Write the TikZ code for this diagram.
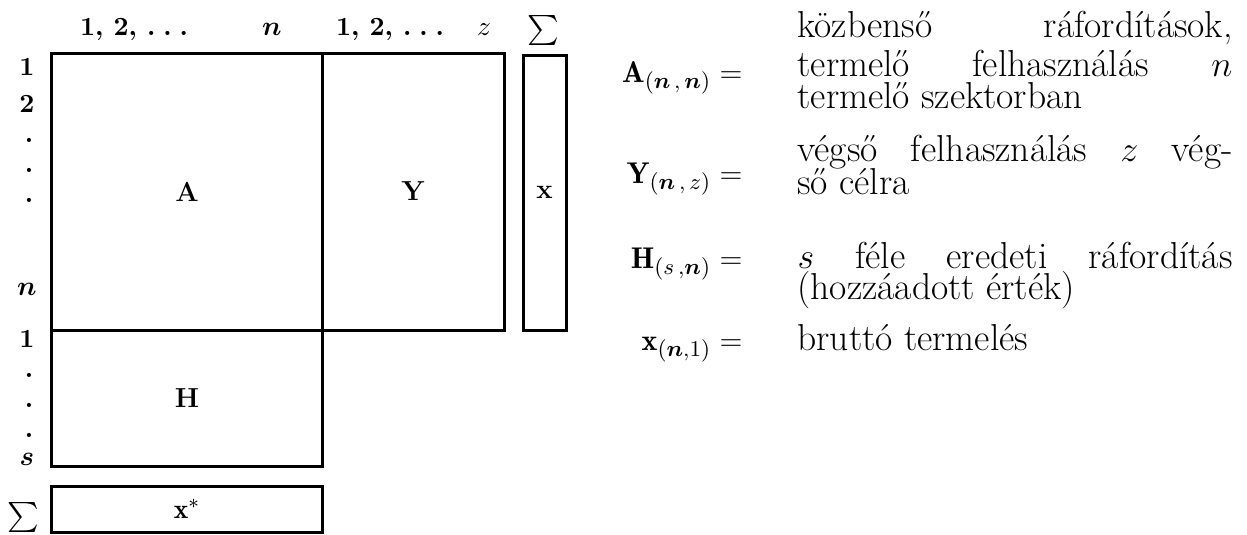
\documentclass[tikz,border=0pt]{standalone}
\usepackage{amsmath,bm}
\usepackage{fontspec}
\DeclareMathSizes{12}{12}{9}{7}
\newcommand{\spdots}{.\hspace{0.3em}.\hspace{0.3em}.}
\begin{document}
\begin{tikzpicture}[x=0.4pt,y=-0.4pt,
  mbox/.style={draw,line width=1.2pt,inner sep=0pt,outer sep=0pt,font=\fontsize{11}{13}\selectfont\bfseries},
  lbl/.style={inner sep=0pt,font=\fontsize{10.5}{12}\selectfont\bfseries},
  dotlbl/.style={inner sep=0pt,font=\fontsize{10.5}{12}\selectfont\bfseries},
  sumlbl/.style={inner sep=0pt,font=\fontsize{13}{15}\selectfont},
  eqlbl/.style={inner sep=0pt,anchor=base east,font=\fontsize{12}{14}\selectfont},
  body/.style={inner sep=0pt,anchor=base west,font=\fontsize{15}{16}\selectfont}]
\useasboundingbox (0,0) rectangle (1247,534);
% matrix blocks
\node[mbox,minimum width=108pt,minimum height=110.8pt] (A) at (187,191.5) {A};
\node[mbox,minimum width=72.8pt,minimum height=110.8pt] (Y) at (413,191.5) {Y};
\node[mbox,minimum width=108pt,minimum height=54.4pt] (H) at (187,398) {H};
\node[mbox,minimum width=17.2pt,minimum height=110pt] (X) at (544.5,192.5) {x};
\node[mbox,minimum width=108pt,minimum height=18.4pt] (XS) at (187,509) {$\mathbf{x}^{*}$};
% column labels
\node[lbl,anchor=base] (c1) at (134,35) {1, 2, \spdots};
\node[lbl,anchor=base] (cn) at (272,35) {$\bm{n}$};
\node[lbl,anchor=base] (c2) at (390,35) {1, 2, \spdots};
\node[lbl,anchor=base] (cz) at (484,35) {$z$};
\node[sumlbl] (cs) at (543,30) {$\sum$};
% row labels
\node[lbl,anchor=base] (r1) at (27,75) {1};
\node[lbl,anchor=base] (r2) at (27,112) {2};
\node[dotlbl] (d1) at (29,140) {.};
\node[dotlbl] (d2) at (29,170) {.};
\node[dotlbl] (d3) at (29,200) {.};
\node[lbl,anchor=base] (rn) at (27,295) {$\bm{n}$};
\node[lbl,anchor=base] (h1) at (27,347) {1};
\node[dotlbl] (d4) at (29,375) {.};
\node[dotlbl] (d5) at (29,405) {.};
\node[dotlbl] (d6) at (29,435) {.};
\node[lbl,anchor=base] (rs) at (27,465) {$\bm{s}$};
\node[sumlbl] (rsum) at (23,517) {$\sum$};
% legend
\node[eqlbl] (la) at (743,82) {$\mathbf{A}_{(\bm{n}\,,\,\bm{n})}=$};
\node[eqlbl] (ly) at (743,183) {$\mathbf{Y}_{(\bm{n}\,,\,z)}=$};
\node[eqlbl] (lh) at (743,268) {$\mathbf{H}_{(s\,,\bm{n})}=$};
\node[eqlbl] (lx) at (743,350) {$\mathbf{x}_{(\bm{n},1)}=$};
\node[body] (t1) at (797,37) {\makebox[174pt][s]{közbenső ráfordítások,}};
\node[body] (t2) at (797,76) {\makebox[174pt][s]{termelő felhasználás $n$}};
\node[body] (t3) at (797,108) {termelő szektorban};
\node[body] (t4) at (797,161) {\makebox[174pt][s]{végső felhasználás $z$ vég-}};
\node[body] (t5) at (797,194) {ső célra};
\node[body] (t6) at (797,268) {\makebox[174pt][s]{$s$ féle eredeti ráfordítás}};
\node[body] (t7) at (797,299) {(hozzáadott érték)};
\node[body] (t8) at (797,350) {bruttó termelés};
\end{tikzpicture}
\end{document}
